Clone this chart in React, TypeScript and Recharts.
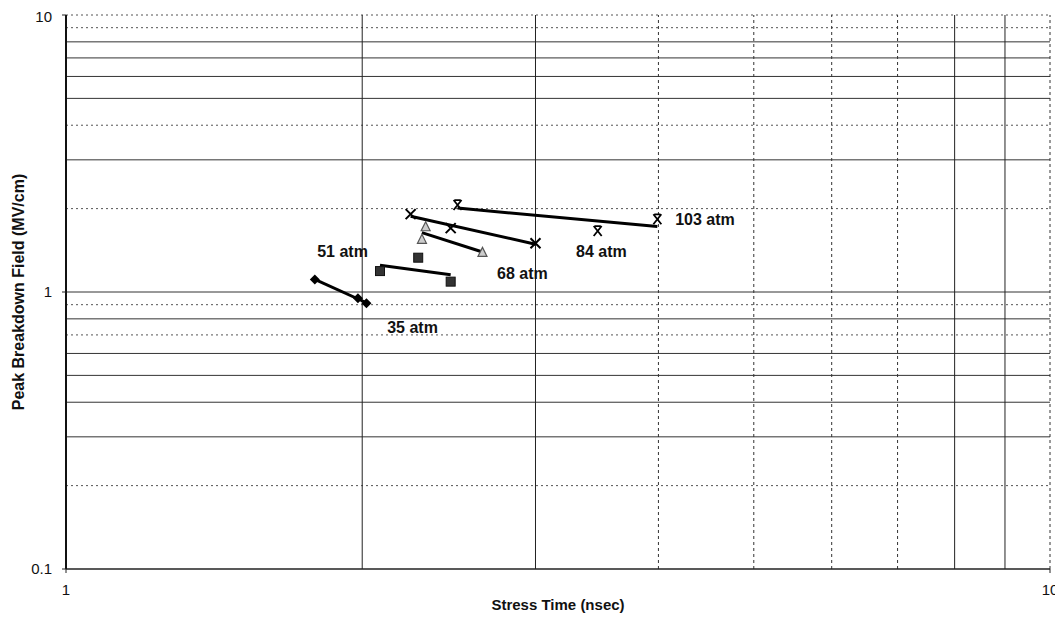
import { ScatterChart, Scatter, XAxis, YAxis, ReferenceLine, ReferenceDot } from "recharts";

// stress time (nsec) / peak breakdown field (MV/cm) per pressure
const time35 = [1.79, 1.98, 2.02];
const field35 = [1.11, 0.95, 0.91];
const time51 = [2.085, 2.28, 2.46];
const field51 = [1.19, 1.33, 1.09];
const time68 = [2.32, 2.3, 2.65];
const field68 = [1.72, 1.55, 1.39];
const time84 = [2.24, 2.46, 3.0];
const field84 = [1.91, 1.7, 1.5];
const time103 = [2.5, 3.47, 3.99];
const field103 = [2.06, 1.66, 1.83];

const xTicks = [1, 10];
const yTicks = [0.1, 1, 10];

// grid lines: which look solid and which look dotted in the scan
const gridXSolid = [2, 3, 8, 9];
const gridXDotted = [4, 5, 6, 7, 10];
const gridYSolid = [0.3, 0.4, 0.5, 0.6, 0.8, 1, 3, 5, 6, 7, 8];
const gridYDotted = [0.2, 0.7, 0.9, 2, 4, 9, 10];

const labelNames = ["35 atm", "51 atm", "68 atm", "84 atm", "103 atm"];
const labelX = [2.25, 1.91, 2.91, 3.5, 4.46];
const labelY = [0.747, 1.406, 1.17, 1.406, 1.83];

const pts = (xs: number[], ys: number[]) => xs.map((x, i) => ({ x, y: ys[i] }));

// power trendline (least squares in log-log space), drawn over the data's x range
function powerFit(xs: number[], ys: number[]) {
  const lx = xs.map(Math.log10);
  const ly = ys.map(Math.log10);
  const n = lx.length;
  const mx = lx.reduce((a, b) => a + b, 0) / n;
  const my = ly.reduce((a, b) => a + b, 0) / n;
  let num = 0;
  let den = 0;
  for (let i = 0; i < n; i++) {
    num += (lx[i] - mx) * (ly[i] - my);
    den += (lx[i] - mx) ** 2;
  }
  const b = num / den;
  const at = (x: number) => Math.pow(10, my + b * (Math.log10(x) - mx));
  const lo = Math.min(...xs);
  const hi = Math.max(...xs);
  return [
    { x: lo, y: at(lo) },
    { x: hi, y: at(hi) },
  ];
}

const Diamond = (p: any) => {
  const { cx, cy } = p;
  return <polygon points={`${cx},${cy - 5} ${cx + 5},${cy} ${cx},${cy + 5} ${cx - 5},${cy}`} fill="#000" />;
};
const Square = (p: any) => {
  const { cx, cy } = p;
  return <rect x={cx - 4.5} y={cy - 4.5} width={9} height={9} fill="#333" stroke="#111" strokeWidth={1} />;
};
const Triangle = (p: any) => {
  const { cx, cy } = p;
  return (
    <polygon
      points={`${cx},${cy - 5} ${cx + 4.5},${cy + 4} ${cx - 4.5},${cy + 4}`}
      fill="#ccc"
      stroke="#555"
      strokeWidth={1.2}
    />
  );
};
const Cross = (p: any) => {
  const { cx, cy } = p;
  return (
    <path
      d={`M${cx - 5},${cy - 5}L${cx + 5},${cy + 5}M${cx + 5},${cy - 5}L${cx - 5},${cy + 5}`}
      stroke="#000"
      strokeWidth={2}
    />
  );
};
const BarCross = (p: any) => {
  const { cx, cy } = p;
  return (
    <path
      d={`M${cx - 4},${cy - 5}L${cx + 4},${cy + 5}M${cx + 4},${cy - 5}L${cx - 4},${cy + 5}M${cx - 3},${cy - 5}L${cx + 3},${cy - 5}`}
      stroke="#000"
      strokeWidth={1.8}
    />
  );
};
const NoDot = () => null;

const series = [
  { xs: time35, ys: field35, shape: Diamond },
  { xs: time51, ys: field51, shape: Square },
  { xs: time68, ys: field68, shape: Triangle },
  { xs: time84, ys: field84, shape: Cross },
  { xs: time103, ys: field103, shape: BarCross },
];

const font = "'Liberation Sans', Arial, sans-serif";

const XTick = ({ x, y, payload }: any) => (
  <text x={x} y={y} dy="0.71em" textAnchor="middle" fontSize={15} fill="#111" fontFamily={font}>
    {payload.value}
  </text>
);
const YTick = ({ x, y, payload }: any) => (
  <text x={x} y={y} dy="0.355em" textAnchor="end" fontSize={15} fill="#111" fontFamily={font}>
    {payload.value}
  </text>
);

export default function App() {
  return (
    <div style={{ width: 1055, height: 612, fontFamily: font, background: "#fff" }}>
      <ScatterChart width={1055} height={612} margin={{ top: 7, right: 13, bottom: 1, left: 8 }}>
        <XAxis
          type="number"
          dataKey="x"
          scale="log"
          domain={[1, 10]}
          ticks={xTicks}
          allowDataOverflow
          height={50}
          tickSize={4}
          tickMargin={11}
          axisLine={{ stroke: "#222", strokeWidth: 1.5 }}
          tickLine={{ stroke: "#222" }}
          tick={<XTick />}
          label={{
            value: "Stress Time (nsec)",
            position: "insideBottom",
            offset: 9,
            style: { fontSize: 15, fontWeight: "bold", fill: "#111", fontFamily: font },
          }}
        />
        <YAxis
          type="number"
          dataKey="y"
          scale="log"
          domain={[0.1, 10]}
          ticks={yTicks}
          allowDataOverflow
          width={50}
          tickSize={4}
          tickMargin={10}
          axisLine={{ stroke: "#111", strokeWidth: 2 }}
          tickLine={{ stroke: "#222" }}
          tick={<YTick />}
          label={{
            value: "Peak Breakdown Field (MV/cm)",
            angle: -90,
            position: "insideLeft",
            offset: 2,
            style: { textAnchor: "middle", fontSize: 16, fontWeight: "bold", fill: "#111", fontFamily: font },
          }}
        />
        {gridYSolid.map((v) => (
          <ReferenceLine key={`ys${v}`} y={v} stroke="#333" strokeWidth={1} />
        ))}
        {gridYDotted.map((v) => (
          <ReferenceLine key={`yd${v}`} y={v} stroke="#555" strokeWidth={1} strokeDasharray="2 3" />
        ))}
        {gridXSolid.map((v) => (
          <ReferenceLine key={`xs${v}`} x={v} stroke="#222" strokeWidth={1} />
        ))}
        {gridXDotted.map((v) => (
          <ReferenceLine key={`xd${v}`} x={v} stroke="#333" strokeWidth={1} strokeDasharray="3 3" />
        ))}
        {series.map((s, i) => (
          <Scatter
            key={`fit${i}`}
            data={powerFit(s.xs, s.ys)}
            line={{ stroke: "#000", strokeWidth: 3 }}
            shape={NoDot}
            isAnimationActive={false}
          />
        ))}
        {series.map((s, i) => (
          <Scatter key={`pts${i}`} data={pts(s.xs, s.ys)} shape={s.shape} isAnimationActive={false} />
        ))}
        {labelNames.map((name, i) => (
          <ReferenceDot
            key={name}
            x={labelX[i]}
            y={labelY[i]}
            r={0.1}
            fill="none"
            stroke="none"
            label={{
              value: name,
              position: "center",
              style: { fontSize: 16, fontWeight: "bold", fill: "#111", fontFamily: font },
            }}
          />
        ))}
      </ScatterChart>
    </div>
  );
}
